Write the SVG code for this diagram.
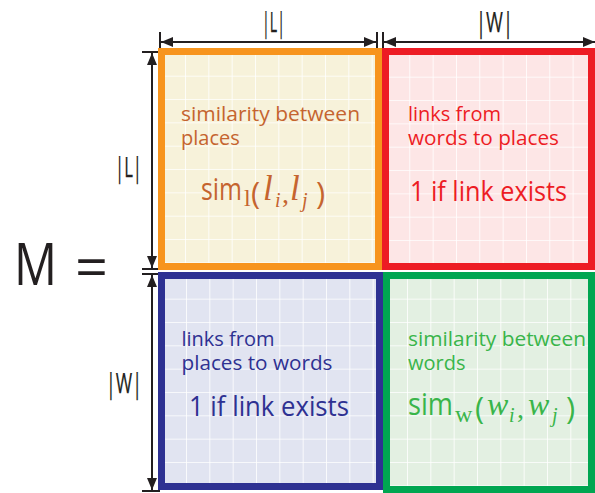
<svg xmlns="http://www.w3.org/2000/svg" width="595" height="493" viewBox="0 0 595 493">
<defs>
<style>
.t{font-family:"Open Sans","Noto Sans",sans-serif;}
.m{font-family:"Liberation Serif",serif;}
.body{font-size:20px;}
.big{font-size:28px;}
.dim{font-family:"Open Sans","Noto Sans",sans-serif;font-size:28px;fill:#231f20;stroke:#231f20;stroke-width:0.25;}
.dl{stroke:#231f20;stroke-width:2;fill:none;}
.grid{stroke:#ffffff;stroke-width:1.6;fill:none;}
</style>
<pattern id="gO" width="23.333" height="23.333" patternUnits="userSpaceOnUse" patternTransform="translate(185,75.7)"><path class="grid" d="M0 0V23.333M0 0H23.333"/></pattern>
<pattern id="gR" width="23.333" height="23.333" patternUnits="userSpaceOnUse" patternTransform="translate(409.3,76.7)"><path class="grid" d="M0 0V23.333M0 0H23.333"/></pattern>
<pattern id="gB" width="23.333" height="23.333" patternUnits="userSpaceOnUse" patternTransform="translate(186,392)"><path class="grid" d="M0 0V23.333M0 0H23.333"/></pattern>
<pattern id="gG" width="23.333" height="23.333" patternUnits="userSpaceOnUse" patternTransform="translate(407,392)"><path class="grid" d="M0 0V23.333M0 0H23.333"/></pattern>
<marker id="ah" viewBox="0 0 12 10" refX="12" refY="5" markerWidth="12" markerHeight="10" markerUnits="userSpaceOnUse" orient="auto-start-reverse"><path d="M0 0L12 5L0 10z" fill="#231f20"/></marker>
</defs>
<rect width="595" height="493" fill="#ffffff"/>

<g id="block-LL">
<rect x="161.5" y="51.5" width="217" height="215" fill="#f7f2da"/>
<rect x="161.5" y="51.5" width="217" height="215" fill="url(#gO)" stroke="#f7941d" stroke-width="7"/>
<text class="t body" x="181" y="121" fill="#c5642f" textLength="179" lengthAdjust="spacingAndGlyphs">similarity between</text>
<text class="t body" x="181" y="144.5" fill="#c5642f">places</text>
<text fill="#c5642f" y="200"><tspan class="t" x="201" font-size="31" textLength="41" lengthAdjust="spacingAndGlyphs">sim</tspan><tspan class="m" x="244" y="206" font-size="24">l</tspan><tspan class="t" x="251" y="204" font-size="31">(</tspan><tspan class="m" x="263" y="200" font-size="35" font-style="italic">l</tspan><tspan class="m" x="275" y="207" font-size="20" font-style="italic">i</tspan><tspan class="m" x="282" y="203" font-size="28">,</tspan><tspan class="m" x="290" y="200" font-size="35" font-style="italic">l</tspan><tspan class="m" x="302" y="207" font-size="20" font-style="italic">j</tspan><tspan class="t" x="316" y="204" font-size="31">)</tspan></text>
</g>

<g id="block-LW">
<rect x="385.5" y="51.5" width="206" height="215" fill="#fde6e6"/>
<rect x="385.5" y="51.5" width="206" height="215" fill="url(#gR)" stroke="#ed1c24" stroke-width="7"/>
<text class="t body" x="408" y="121" fill="#ed1c24">links from</text>
<text class="t body" x="408" y="144.5" fill="#ed1c24" textLength="151" lengthAdjust="spacingAndGlyphs">words to places</text>
<text class="t big" x="410" y="200.5" fill="#ed1c24" textLength="157" lengthAdjust="spacingAndGlyphs">1 if link exists</text>
</g>

<g id="block-WL">
<rect x="161.5" y="275.5" width="218" height="211" fill="#e1e4f1"/>
<rect x="161.5" y="275.5" width="218" height="211" fill="url(#gB)" stroke="#2e3192" stroke-width="7"/>
<text class="t body" x="181.5" y="346" fill="#2e3192">links from</text>
<text class="t body" x="181.5" y="369.5" fill="#2e3192" textLength="151" lengthAdjust="spacingAndGlyphs">places to words</text>
<text class="t big" x="189" y="416" fill="#2e3192" textLength="160" lengthAdjust="spacingAndGlyphs">1 if link exists</text>
</g>

<g id="block-WW">
<rect x="386.5" y="275.5" width="205" height="214" fill="#e3f0e2"/>
<rect x="386.5" y="275.5" width="205" height="214" fill="url(#gG)" stroke="#00a651" stroke-width="7"/>
<text class="t body" x="408" y="346" fill="#39b54a" textLength="178" lengthAdjust="spacingAndGlyphs">similarity between</text>
<text class="t body" x="408" y="369.5" fill="#39b54a">words</text>
<text fill="#39b54a" y="415"><tspan class="t" x="408" font-size="31" textLength="45" lengthAdjust="spacingAndGlyphs">sim</tspan><tspan class="m" x="455" y="422" font-size="24">w</tspan><tspan class="t" x="475" y="419" font-size="31">(</tspan><tspan class="m" x="487" y="415" font-size="32" font-style="italic">w</tspan><tspan class="m" x="509" y="422" font-size="20" font-style="italic">i</tspan><tspan class="m" x="517" y="418" font-size="28">,</tspan><tspan class="m" x="528" y="415" font-size="32" font-style="italic">w</tspan><tspan class="m" x="552" y="422" font-size="20" font-style="italic">j</tspan><tspan class="t" x="566" y="419" font-size="31">)</tspan></text>
</g>

<g id="label-M">
<text class="t" x="14" y="285" font-size="58" fill="#231f20" textLength="43" lengthAdjust="spacingAndGlyphs">M</text>
<text class="t" x="75" y="288" font-size="58" fill="#231f20" textLength="33" lengthAdjust="spacingAndGlyphs">=</text>
</g>

<g id="connectors">
<path class="dl" d="M160 32V48M377 32V48M383 32V48M142 52H158M142 269H158M142 274H158M142 491H160"/>
<line class="dl" x1="161" y1="42" x2="376" y2="42" marker-start="url(#ah)" marker-end="url(#ah)"/>
<line class="dl" x1="384" y1="42" x2="595" y2="42" marker-start="url(#ah)" marker-end="url(#ah)"/>
<line class="dl" x1="152" y1="53" x2="152" y2="268" marker-start="url(#ah)" marker-end="url(#ah)"/>
<line class="dl" x1="152" y1="275" x2="152" y2="490" marker-start="url(#ah)" marker-end="url(#ah)"/>
</g>

<g id="dim-labels">
<text class="dim" x="262" y="32" textLength="23" lengthAdjust="spacingAndGlyphs">|L|</text>
<text class="dim" x="476" y="32" textLength="37" lengthAdjust="spacingAndGlyphs">|W|</text>
<text class="dim" x="115" y="177" textLength="27" lengthAdjust="spacingAndGlyphs">|L|</text>
<text class="dim" x="106" y="393" textLength="36" lengthAdjust="spacingAndGlyphs">|W|</text>
</g>
</svg>
